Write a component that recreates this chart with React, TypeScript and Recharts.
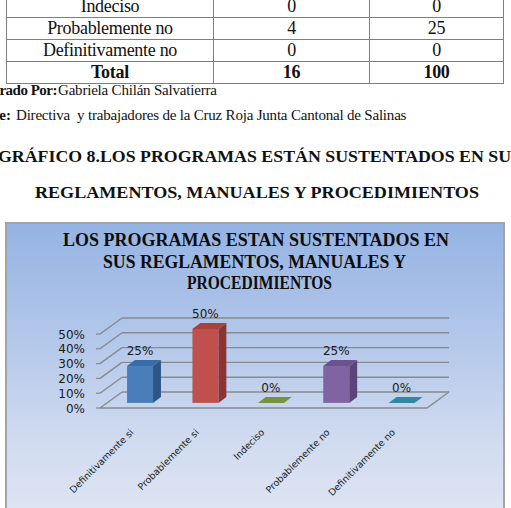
import React from 'react';
import { BarChart, Bar, XAxis, YAxis, CartesianGrid, LabelList } from 'recharts';

// Survey answers, counts and shares
const CATEGORIES = ['Definitivamente si', 'Probablemente si', 'Indeciso', 'Probablemente no', 'Definitivamente no'];
const FREQUENCIES = [4, 8, 0, 4, 0];
const PERCENTAGES = [25, 50, 0, 25, 0];
const Y_TICKS = [0, 10, 20, 30, 40, 50];
// The table continues from the previous page: rows from "Indeciso" on are shown here
const TABLE_FIRST_ROW = 2;

const BAR_COLORS = [
  { front: '#4a7ebb', side: '#2f5585', top: '#3d6ba6' },
  { front: '#c0504d', side: '#8b3532', top: '#a8423f' },
  { front: '#9bbb59', side: '#6f8a3a', top: '#77933c' },
  { front: '#8064a2', side: '#5a4478', top: '#6b5290' },
  { front: '#4bacc6', side: '#2f7f95', top: '#31899f' },
];

const rows = CATEGORIES.map((name, i) => ({ name, freq: FREQUENCIES[i], pct: PERCENTAGES[i] }));
const totalFreq = FREQUENCIES.reduce((a, b) => a + b, 0);
const totalPct = PERCENTAGES.reduce((a, b) => a + b, 0);

// Layout of the pseudo-3D plot (front plane)
const PLOT_LEFT = 100;
const PLOT_RIGHT = 427;
const PLOT_TOP = 334;
const PLOT_BOTTOM = 408;
const DEPTH_X = 22;
const DEPTH_Y = -16;
const BAR_FRONT = 0.32;
const BAR_BACK = 0.68;
const GRID = '#868a92';
const SANS = '"DejaVu Sans", Verdana, sans-serif';
const SERIF = '"Liberation Serif", "Times New Roman", serif';

function Bar3D(props: any) {
  const { x, y, width, height, index } = props;
  const c = BAR_COLORS[index % BAR_COLORS.length];
  const x0 = x + DEPTH_X * BAR_FRONT;
  const y0 = y + DEPTH_Y * BAR_FRONT;
  const dx = DEPTH_X * (BAR_BACK - BAR_FRONT);
  const dy = DEPTH_Y * (BAR_BACK - BAR_FRONT);
  const x1 = x0 + width;
  const h = Math.max(0, height);
  const y1 = y0 + h;
  return (
    <g>
      {h > 0 && (
        <polygon points={`${x1},${y0} ${x1 + dx},${y0 + dy} ${x1 + dx},${y1 + dy} ${x1},${y1}`} fill={c.side} />
      )}
      {h > 0 && <rect x={x0} y={y0} width={width} height={h} fill={c.front} />}
      <polygon points={`${x0},${y0} ${x1},${y0} ${x1 + dx},${y0 + dy} ${x0 + dx},${y0 + dy}`} fill={c.top} />
    </g>
  );
}

function WallLine(props: any) {
  const { y1 } = props;
  const isFloor = Math.abs(y1 - PLOT_BOTTOM) < 0.5;
  return (
    <g>
      <line x1={PLOT_LEFT - 4} y1={y1} x2={PLOT_LEFT} y2={y1} stroke={GRID} strokeWidth={1.2} />
      <line x1={PLOT_LEFT} y1={y1} x2={PLOT_LEFT + DEPTH_X} y2={y1 + DEPTH_Y} stroke={GRID} strokeWidth={1.4} />
      <line x1={PLOT_LEFT + DEPTH_X} y1={y1 + DEPTH_Y} x2={PLOT_RIGHT + DEPTH_X} y2={y1 + DEPTH_Y} stroke={GRID} strokeWidth={1.4} />
      {isFloor && (
        <polyline
          points={`${PLOT_LEFT},${y1} ${PLOT_RIGHT},${y1} ${PLOT_RIGHT + DEPTH_X},${y1 + DEPTH_Y}`}
          fill="none"
          stroke={GRID}
          strokeWidth={1.4}
        />
      )}
    </g>
  );
}

function PercentTick(props: any) {
  const { y, payload } = props;
  return (
    <text x={PLOT_LEFT - 15} y={y + 4.5} textAnchor="end" fontFamily={SANS} fontSize={12} fill="#1a1a1a">
      {`${payload.value}%`}
    </text>
  );
}

function CategoryTick(props: any) {
  const { x, payload } = props;
  const ax = x + 1.5;
  const ay = PLOT_BOTTOM + 25;
  return (
    <text
      x={ax}
      y={ay}
      transform={`rotate(-45 ${ax} ${ay})`}
      textAnchor="end"
      fontFamily={SANS}
      fontSize={9.4}
      fill="#1a1a1a"
    >
      {payload.value}
    </text>
  );
}

function ValueLabel(props: any) {
  const { x, y, width, value } = props;
  return (
    <text
      x={x + width / 2 + DEPTH_X * BAR_FRONT}
      y={y - 16}
      textAnchor="middle"
      fontFamily={SANS}
      fontSize={12}
      fill="#1a1a1a"
    >
      {`${value}%`}
    </text>
  );
}

const cell: React.CSSProperties = {
  border: '1px solid #808080',
  height: 21,
  padding: 0,
  textAlign: 'center',
  verticalAlign: 'middle',
  lineHeight: '21px',
};

export default function App() {
  return (
    <div
      style={{
        position: 'fixed',
        left: 0,
        top: 0,
        width: 511,
        height: 508,
        overflow: 'hidden',
        background: '#ffffff',
        fontFamily: SERIF,
        color: '#111',
      }}
    >
      {/* frequency table */}
      <table
        style={{
          position: 'absolute',
          left: 6,
          top: -5,
          borderCollapse: 'collapse',
          tableLayout: 'fixed',
          fontSize: 18,
          fontFamily: SERIF,
          letterSpacing: -0.3,
        }}
      >
        <colgroup>
          <col style={{ width: 207 }} />
          <col style={{ width: 156 }} />
          <col style={{ width: 134 }} />
        </colgroup>
        <tbody>
          {rows.slice(TABLE_FIRST_ROW).map((r) => (
            <tr key={r.name}>
              <td style={cell}>{r.name}</td>
              <td style={cell}>{r.freq}</td>
              <td style={cell}>{r.pct}</td>
            </tr>
          ))}
          <tr>
            <td style={{ ...cell, fontWeight: 'bold' }}>Total</td>
            <td style={{ ...cell, fontWeight: 'bold' }}>{totalFreq}</td>
            <td style={{ ...cell, fontWeight: 'bold' }}>{totalPct}</td>
          </tr>
        </tbody>
      </table>

      {/* source notes */}
      <div style={{ position: 'absolute', right: 454, top: 82, fontSize: 15, fontWeight: 'bold', whiteSpace: 'nowrap', letterSpacing: -0.5 }}>
        Elaborado Por:
      </div>
      <div style={{ position: 'absolute', left: 58, top: 82, fontSize: 15, whiteSpace: 'nowrap', letterSpacing: -0.2 }}>
        Gabriela Chilán Salvatierra
      </div>
      <div style={{ position: 'absolute', right: 500, top: 107, fontSize: 15, fontWeight: 'bold', whiteSpace: 'nowrap' }}>
        Fuente:
      </div>
      <div style={{ position: 'absolute', left: 16, top: 107, fontSize: 15, whiteSpace: 'pre', letterSpacing: -0.2 }}>
        {'Directiva  y trabajadores de la Cruz Roja Junta Cantonal de Salinas'}
      </div>

      {/* figure heading */}
      <svg width={511} height={508} style={{ position: 'absolute', left: 0, top: 0 }}>
        <text x={-2} y={162} textLength={523} lengthAdjust="spacingAndGlyphs" fontFamily={SERIF} fontWeight="bold" fontSize={17} fill="#111">
          GRÁFICO 8.LOS PROGRAMAS ESTÁN SUSTENTADOS EN SUS
        </text>
        <text x={35} y={198} textLength={444} lengthAdjust="spacingAndGlyphs" fontFamily={SERIF} fontWeight="bold" fontSize={17} fill="#111">
          REGLAMENTOS, MANUALES Y PROCEDIMIENTOS
        </text>
      </svg>

      {/* chart frame */}
      <div
        style={{
          position: 'absolute',
          left: 5,
          top: 222,
          width: 500,
          height: 300,
          boxSizing: 'border-box',
          border: '2px solid #a2a4a8',
          background: 'linear-gradient(to bottom, #95b3e3 0%, #b4c8ea 40%, #d2dcf0 75%, #dfe5f3 100%)',
        }}
      />

      {/* chart title */}
      <svg width={511} height={508} style={{ position: 'absolute', left: 0, top: 0 }}>
        <text x={63} y={245.5} textLength={386} lengthAdjust="spacingAndGlyphs" fontFamily={SERIF} fontWeight="bold" fontSize={19} fill="#0d0d0d">
          LOS PROGRAMAS ESTAN SUSTENTADOS EN
        </text>
        <text x={103} y={267.5} textLength={303} lengthAdjust="spacingAndGlyphs" fontFamily={SERIF} fontWeight="bold" fontSize={19} fill="#0d0d0d">
          SUS REGLAMENTOS, MANUALES Y
        </text>
        <text x={187} y={288.5} textLength={145} lengthAdjust="spacingAndGlyphs" fontFamily={SERIF} fontWeight="bold" fontSize={19} fill="#0d0d0d">
          PROCEDIMIENTOS
        </text>
      </svg>

      <div style={{ position: 'absolute', left: 0, top: 0 }}>
        <BarChart
          width={511}
          height={508}
          data={rows}
          margin={{ top: PLOT_TOP, right: 511 - PLOT_RIGHT, bottom: 0, left: 0 }}
          barCategoryGap={0}
        >
          <CartesianGrid vertical={false} horizontal={(p: any) => <WallLine {...p} />} />
          <XAxis
            dataKey="name"
            height={508 - PLOT_BOTTOM}
            axisLine={false}
            tickLine={false}
            interval={0}
            tick={(p: any) => <CategoryTick {...p} />}
          />
          <YAxis
            type="number"
            domain={[0, 50]}
            ticks={Y_TICKS}
            width={PLOT_LEFT}
            axisLine={false}
            tickLine={false}
            interval={0}
            tick={(p: any) => <PercentTick {...p} />}
          />
          <Bar dataKey="pct" barSize={26} isAnimationActive={false} shape={(p: any) => <Bar3D {...p} />}>
            <LabelList dataKey="pct" content={(p: any) => <ValueLabel {...p} />} />
          </Bar>
        </BarChart>
      </div>
    </div>
  );
}
